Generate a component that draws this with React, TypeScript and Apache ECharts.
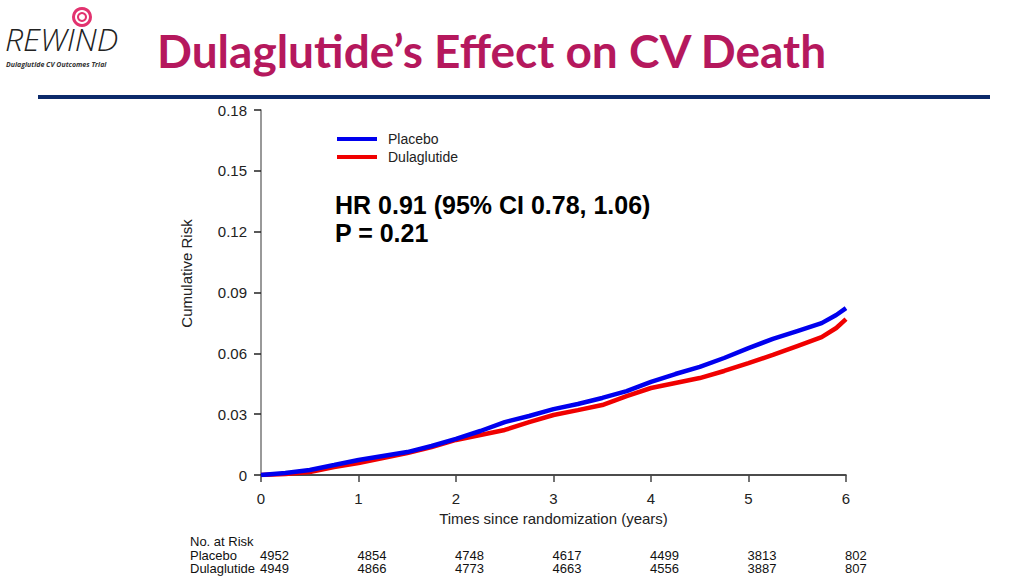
import React, { useEffect, useRef } from "react";
import * as echarts from "echarts";

const years = [0, 0.25, 0.5, 0.75, 1, 1.25, 1.5, 1.75, 2, 2.25, 2.5, 2.75, 3, 3.25, 3.5, 3.75, 4, 4.25, 4.5, 4.75, 5, 5.25, 5.5, 5.75, 5.9, 6];
const placebo = [0, 0.001, 0.0025, 0.0049, 0.0074, 0.0094, 0.0113, 0.0143, 0.0178, 0.0217, 0.0261, 0.0291, 0.0325, 0.035, 0.038, 0.0414, 0.0459, 0.0498, 0.0533, 0.0577, 0.0626, 0.0671, 0.071, 0.0749, 0.0789, 0.0823];
const dulaglutide = [0, 0.0005, 0.0015, 0.0039, 0.0059, 0.0084, 0.0108, 0.0138, 0.0173, 0.0197, 0.0222, 0.0261, 0.0296, 0.032, 0.0345, 0.0389, 0.0429, 0.0454, 0.0478, 0.0513, 0.0552, 0.0592, 0.0636, 0.068, 0.0725, 0.0769];

const riskYears = [0, 1, 2, 3, 4, 5, 6];
const riskPlacebo = [4952, 4854, 4748, 4617, 4499, 3813, 802];
const riskDulaglutide = [4949, 4866, 4773, 4663, 4556, 3887, 807];

const title = "Dulaglutide’s Effect on CV Death";
const hrText = "HR 0.91 (95% CI 0.78, 1.06)";
const pText = "P = 0.21";

const axisFont = "Liberation Sans, Arial, sans-serif";
const narrowFont = "'Liberation Sans Narrow', 'Arial Narrow', 'Liberation Sans', sans-serif";

export default function App() {
  const ref = useRef<HTMLDivElement>(null);
  useEffect(() => {
    if (!ref.current) return;
    const chart = echarts.init(ref.current, null, { renderer: "svg" });
    const option: any = {
      animation: false,
      backgroundColor: "#ffffff",
      grid: { left: 261, right: 178, top: 110, bottom: 101 },
      legend: {
        orient: "vertical",
        left: 332,
        top: 127,
        itemWidth: 40,
        itemHeight: 4,
        itemGap: 4,
        icon: "rect",
        data: ["Placebo", "Dulaglutide"],
        textStyle: { fontFamily: axisFont, fontSize: 14, color: "#222", padding: [0, 0, 0, 6] },
      },
      xAxis: {
        type: "value",
        min: 0,
        max: 6,
        interval: 1,
        name: "Times since randomization (years)",
        nameLocation: "middle",
        nameGap: 36,
        nameTextStyle: { fontFamily: axisFont, fontSize: 15, color: "#222" },
        axisLine: { lineStyle: { color: "#111", width: 1.5 } },
        axisTick: { length: 7, lineStyle: { color: "#444", width: 1.5 } },
        axisLabel: { fontFamily: axisFont, fontSize: 15, color: "#222", margin: 16 },
        splitLine: { show: false },
      },
      yAxis: {
        type: "value",
        min: 0,
        max: 0.18,
        interval: 0.03,
        name: "Cumulative Risk",
        nameLocation: "middle",
        nameGap: 67,
        nameTextStyle: { fontFamily: axisFont, fontSize: 15, color: "#222", padding: [0, 0, 0, 38] },
        axisLine: { show: true, lineStyle: { color: "#777", width: 1.5 } },
        axisTick: { show: true, length: 7, lineStyle: { color: "#222", width: 1.5 } },
        axisLabel: {
          fontFamily: axisFont,
          fontSize: 15,
          color: "#222",
          margin: 14,
          formatter: (v: number) => (v === 0 ? "0" : v.toFixed(2)),
        },
        splitLine: { show: false },
      },
      series: [
        {
          name: "Dulaglutide",
          type: "line",
          data: years.map((x, i) => [x, dulaglutide[i]]),
          showSymbol: false,
          lineStyle: { color: "#f00000", width: 4.5 },
          itemStyle: { color: "#f00000" },
          z: 2,
        },
        {
          name: "Placebo",
          type: "line",
          data: years.map((x, i) => [x, placebo[i]]),
          showSymbol: false,
          lineStyle: { color: "#0000ee", width: 4.5 },
          itemStyle: { color: "#0000ee" },
          z: 3,
        },
      ],
    };
    chart.setOption(option);

    const riskTexts: any[] = [];
    riskYears.forEach((yr, i) => {
      const px = chart.convertToPixel({ xAxisIndex: 0 } as any, yr) as unknown as number;
      riskTexts.push({
        type: "text",
        left: px - 1,
        top: 549,
        style: { text: String(riskPlacebo[i]), font: `13px ${narrowFont}`, fill: "#111" },
      });
      riskTexts.push({
        type: "text",
        left: px - 1,
        top: 562,
        style: { text: String(riskDulaglutide[i]), font: `13px ${narrowFont}`, fill: "#111" },
      });
    });

    chart.setOption({
      graphic: [
        // logo icon
        { type: "circle", shape: { cx: 82, cy: 17, r: 10 }, style: { fill: "#e2336f" } },
        { type: "ring", shape: { cx: 82, cy: 17, r: 7, r0: 5 }, style: { fill: "#ffffff" } },
        { type: "circle", shape: { cx: 82, cy: 17, r: 3 }, style: { fill: "#ffffff" } },
        {
          type: "text",
          left: 5,
          top: 22,
          style: { text: "REWIND", font: "italic 300 32px 'Open Sans', 'DejaVu Sans', sans-serif", fill: "#222" },
        },
        {
          type: "text",
          left: 6,
          top: 61,
          style: { text: "Dulaglutide CV Outcomes Trial", font: "italic bold 7px 'Open Sans', sans-serif", fill: "#333" },
        },
        {
          type: "text",
          left: 157,
          top: 27,
          style: { text: title, font: "bold 46px Lato, 'Open Sans', sans-serif", fill: "#b5185d" },
        },
        { type: "rect", shape: { x: 38, y: 95, width: 952, height: 4 }, style: { fill: "#0c2a6a" } },
        {
          type: "text",
          left: 335,
          top: 192,
          style: { text: hrText, font: `bold 25px ${axisFont}`, fill: "#000" },
        },
        {
          type: "text",
          left: 335,
          top: 220,
          style: { text: pText, font: `bold 25px ${axisFont}`, fill: "#000" },
        },
        {
          type: "text",
          left: 190,
          top: 535,
          style: { text: "No. at Risk", font: `13px ${narrowFont}`, fill: "#111" },
        },
        {
          type: "text",
          left: 190,
          top: 549,
          style: { text: "Placebo", font: `13px ${narrowFont}`, fill: "#111" },
        },
        {
          type: "text",
          left: 190,
          top: 562,
          style: { text: "Dulaglutide", font: `13px ${narrowFont}`, fill: "#111" },
        },
        ...riskTexts,
      ],
    });
    return () => chart.dispose();
  }, []);
  return <div ref={ref} style={{ position: "fixed", left: 0, top: 0, width: 1024, height: 576 }} />;
}
